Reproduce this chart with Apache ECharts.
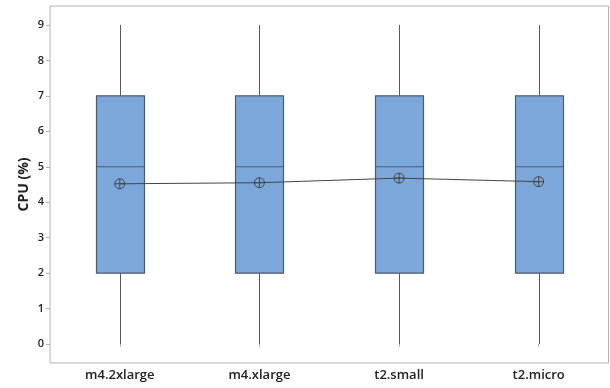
<!DOCTYPE html>
<html>
<head>
<meta charset="utf-8">
<script src="https://cdn.jsdelivr.net/npm/echarts@6/dist/echarts.min.js"></script>
<style>html,body{margin:0;padding:0;background:#fff}#c{width:610px;height:388px}</style>
</head>
<body>
<div id="c"></div>
<script>
const categories = ['m4.2xlarge', 'm4.xlarge', 't2.small', 't2.micro'];
const mins    = [0, 0, 0, 0];
const q1s     = [2, 2, 2, 2];
const medians = [5, 5, 5, 5];
const q3s     = [7, 7, 7, 7];
const maxs    = [9, 9, 9, 9];
const means = [4.52, 4.55, 4.68, 4.58];
const yTicks = [0, 1, 2, 3, 4, 5, 6, 7, 8, 9];

const boxData = categories.map((c, i) => [i, mins[i], q1s[i], medians[i], q3s[i], maxs[i]]);

const font = "'Open Sans', 'Noto Sans', sans-serif";
const chart = echarts.init(document.getElementById('c'));

function renderBox(params, api) {
  const i = api.value(0);
  const pMin = api.coord([i, api.value(1)]);
  const pQ1 = api.coord([i, api.value(2)]);
  const pMed = api.coord([i, api.value(3)]);
  const pQ3 = api.coord([i, api.value(4)]);
  const pMax = api.coord([i, api.value(5)]);
  const half = 24;
  const x = Math.round(pQ1[0]) + 0.5;
  return {
    type: 'group',
    children: [
      { type: 'line', shape: { x1: x, y1: pMax[1], x2: x, y2: pQ3[1] }, style: { stroke: '#5a5a5a', lineWidth: 1 } },
      { type: 'line', shape: { x1: x, y1: pQ1[1], x2: x, y2: pMin[1] }, style: { stroke: '#5a5a5a', lineWidth: 1 } },
      { type: 'rect', shape: { x: x - half, y: pQ3[1], width: half * 2, height: pQ1[1] - pQ3[1] },
        style: { fill: '#7ba7da', stroke: '#4f5b6b', lineWidth: 1.2 } },
      { type: 'line', shape: { x1: x - half, y1: pMed[1], x2: x + half, y2: pMed[1] }, style: { stroke: '#4f5b6b', lineWidth: 1.2 } }
    ]
  };
}

chart.setOption({
  animation: false,
  grid: {
    left: 50, right: 1.5, top: 6, bottom: 25,
    show: true, borderColor: '#b4b4b4', borderWidth: 1, backgroundColor: '#fff'
  },
  xAxis: {
    type: 'category',
    data: categories,
    axisLine: { show: false },
    axisTick: { show: true, alignWithLabel: true, length: 3, lineStyle: { color: '#b4b4b4' } },
    axisLabel: { color: '#222', fontSize: 13, fontWeight: 600, fontFamily: font, margin: 6 },
    splitLine: { show: false }
  },
  yAxis: {
    type: 'value',
    min: -0.534, max: 9.534,
    name: 'CPU (%)',
    nameLocation: 'middle',
    nameRotate: 90,
    nameGap: 19,
    nameMoveOverlap: false,
    nameTextStyle: { color: '#222', fontSize: 14, fontWeight: 'bold', fontFamily: font },
    axisLine: { show: false },
    axisTick: { show: true, length: 4, customValues: yTicks, lineStyle: { color: '#b4b4b4' } },
    axisLabel: { customValues: yTicks, color: '#222', fontSize: 11, fontWeight: 600, fontFamily: font, margin: 6 },
    splitLine: { show: false }
  },
  series: [
    {
      type: 'custom',
      data: boxData,
      encode: { x: 0, y: [1, 2, 3, 4, 5] },
      renderItem: renderBox
    },
    {
      type: 'line',
      data: means,
      symbol: 'path://M0,10 A10,10 0 1,1 20,10 A10,10 0 1,1 0,10 Z M0,10 L20,10 M10,0 L10,20',
      symbolSize: 10,
      lineStyle: { color: '#444', width: 1 },
      itemStyle: { color: 'rgba(0,0,0,0)', borderColor: '#444', borderWidth: 1 },
      z: 5
    }
  ]
});
</script>
</body>
</html>
